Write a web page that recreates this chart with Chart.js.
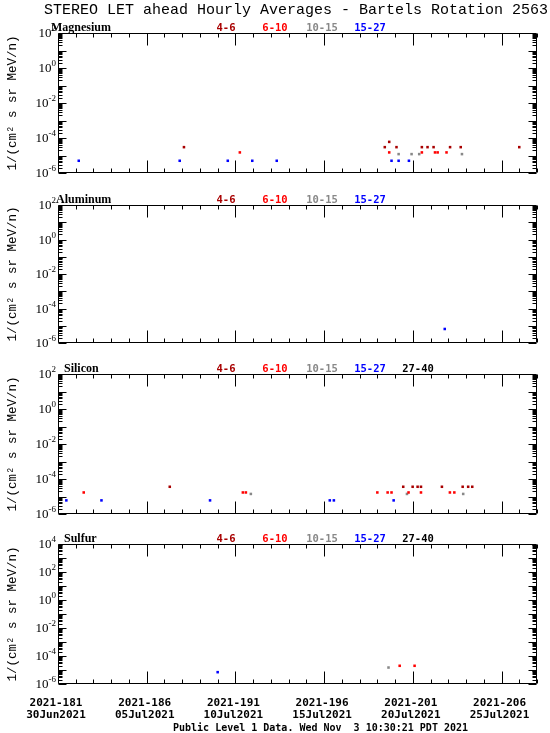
<!DOCTYPE html>
<html>
<head>
<meta charset="utf-8">
<script src="https://cdn.jsdelivr.net/npm/chart.js@4.4.1/dist/chart.umd.min.js"></script>
<style>
body { margin: 0; background: #fff; }
#wrap { position: relative; width: 550px; height: 733px; }
canvas { position: absolute; left: 0; }
</style>
</head>
<body>
<div id="wrap">
<canvas id="c1" width="550" height="180" style="top:0px"></canvas>
<canvas id="c2" width="550" height="170" style="top:180px"></canvas>
<canvas id="c3" width="550" height="170" style="top:350px"></canvas>
<canvas id="c4" width="550" height="213" style="top:520px"></canvas>
</div>
<script>
// x axis: day of year 2021 (Bartels rotation 2563)
const dayMin = 181, dayMax = 208;
const tickDays = [181, 186, 191, 196, 201, 206];
const tickDoy = ['2021-181', '2021-186', '2021-191', '2021-196', '2021-201', '2021-206'];
const tickDates = ['30Jun2021', '05Jul2021', '10Jul2021', '15Jul2021', '20Jul2021', '25Jul2021'];

// energy channels (MeV/n)
const channels = ['4-6', '6-10', '10-15', '15-27', '27-40'];
const channelColors = ['#a80000', '#ff0000', '#888888', '#0000ff', '#000000'];

// Magnesium
const mgDays46 = [188.1, 199.42, 199.67, 200.08, 201.51, 201.83, 202.17, 203.1, 203.7, 207.0];
const mgVals46 = [3e-5, 3e-5, 6e-5, 3e-5, 3e-5, 3e-5, 3e-5, 3e-5, 3e-5, 3e-5];
const mgDays610 = [191.25, 199.67, 201.51, 202.25, 202.4, 202.9];
const mgVals610 = [1.5e-5, 1.5e-5, 1.5e-5, 1.5e-5, 1.5e-5, 1.5e-5];
const mgDays1015 = [200.2, 200.93, 201.36, 203.77];
const mgVals1015 = [1.2e-5, 1.2e-5, 1.2e-5, 1.2e-5];
const mgDays1527 = [182.17, 187.86, 190.57, 191.95, 193.33, 199.8, 200.2, 200.78];
const mgVals1527 = [5e-6, 5e-6, 5e-6, 5e-6, 5e-6, 5e-6, 5e-6, 5e-6];

// Aluminum
const alDays1527 = [202.8];
const alVals1527 = [6.5e-6];

// Silicon
const siDays46 = [187.3, 200.46, 200.99, 201.27, 201.46, 202.64, 203.81, 204.12, 204.35];
const siVals46 = [3.6e-5, 3.6e-5, 3.6e-5, 3.6e-5, 3.6e-5, 3.6e-5, 3.6e-5, 3.6e-5, 3.6e-5];
const siDays610 = [182.45, 191.42, 191.59, 199.0, 199.58, 199.8, 200.76, 201.46, 203.09, 203.34];
const siVals610 = [1.7e-5, 1.7e-5, 1.7e-5, 1.7e-5, 1.7e-5, 1.7e-5, 1.7e-5, 1.7e-5, 1.7e-5, 1.7e-5];
const siDays1015 = [191.87, 200.67, 203.84];
const siVals1015 = [1.4e-5, 1.4e-5, 1.4e-5];
const siDays1527 = [181.47, 183.45, 189.57, 196.32, 196.55, 199.92];
const siVals1527 = [6e-6, 6e-6, 6e-6, 6e-6, 6e-6, 6e-6];

// Sulfur
const sDays610 = [200.26, 201.1];
const sVals610 = [2e-5, 2e-5];
const sDays1015 = [199.63];
const sVals1015 = [1.5e-5];
const sDays1527 = [190.0];
const sVals1527 = [7e-6];

function series(days, vals, ch) {
    return {
        data: days.map((d, i) => ({x: d, y: vals[i]})),
        backgroundColor: channelColors[ch],
        borderWidth: 0,
        pointStyle: 'rect',
        pointRadius: 1.8,
        showLine: false
    };
}

function drawPow(ctx, exp, xRight, yTick) {
    ctx.font = '13px "Liberation Serif"';
    const w1 = ctx.measureText('10').width;
    ctx.font = '9px "Liberation Serif"';
    const w2 = ctx.measureText(String(exp)).width;
    ctx.textAlign = 'left';
    ctx.textBaseline = 'alphabetic';
    ctx.font = '13px "Liberation Serif"';
    ctx.fillText('10', xRight - w2 - w1, yTick + 4);
    ctx.font = '9px "Liberation Serif"';
    ctx.fillText(String(exp), xRight - w2, yTick - 2);
}

const panelPlugin = {
    id: 'panel',
    afterDraw(chart, args, o) {
        const ctx = chart.ctx, a = chart.chartArea;
        const x = chart.scales.x, y = chart.scales.y;
        ctx.save();
        ctx.strokeStyle = '#000';
        ctx.fillStyle = '#000';
        ctx.lineWidth = 1;
        const L = Math.round(a.left) + 0.5, R = Math.round(a.right) - 0.5;
        const T = Math.round(a.top) + 0.5, B = Math.round(a.bottom) - 0.5;
        ctx.beginPath();
        ctx.rect(L, T, R - L, B - T);
        // day ticks, inward on bottom and top
        for (let d = dayMin; d <= dayMax; d++) {
            const px = Math.round(x.getPixelForValue(d)) + 0.5;
            const len = (d - dayMin) % 5 === 0 ? 12 : 4;
            ctx.moveTo(px, B); ctx.lineTo(px, B - len);
            ctx.moveTo(px, T); ctx.lineTo(px, T + len);
        }
        // log ticks, inward on left and right
        for (let e = o.expMin; e < o.expMax; e++) {
            for (let m = 1; m <= 9; m++) {
                const py = Math.round(y.getPixelForValue(m * Math.pow(10, e))) + 0.5;
                const len = m === 1 ? 8 : 4;
                ctx.moveTo(L, py); ctx.lineTo(L + len, py);
                ctx.moveTo(R, py); ctx.lineTo(R - len, py);
            }
        }
        ctx.stroke();

        // y tick labels every two decades
        for (let e = o.expMin; e <= o.expMax; e += 2) {
            drawPow(ctx, e, a.left - 2, y.getPixelForValue(Math.pow(10, e)));
        }

        // y title
        ctx.save();
        ctx.translate(13, (a.top + a.bottom) / 2);
        ctx.rotate(-Math.PI / 2);
        ctx.font = '12.5px "Liberation Mono"';
        ctx.textAlign = 'center';
        ctx.textBaseline = 'middle';
        ctx.fillText('1/(cm\u00b2 s sr MeV/n)', 0, 0);
        ctx.restore();

        // element label
        ctx.font = 'bold 12px "Liberation Serif"';
        ctx.textAlign = 'left';
        ctx.textBaseline = 'alphabetic';
        ctx.fillText(o.label, o.labelX, a.top - 2);

        // channel legend
        const legendX = [226, 275, 322, 370, 418];
        ctx.font = 'bold 10.5px "DejaVu Sans Mono"';
        ctx.textAlign = 'center';
        for (let i = 0; i < o.nChannels; i++) {
            ctx.fillStyle = channelColors[i];
            ctx.fillText(channels[i], legendX[i], a.top - 2);
        }
        ctx.fillStyle = '#000';

        if (o.title) {
            ctx.font = '15px "Liberation Mono"';
            ctx.textAlign = 'center';
            ctx.fillText('STEREO LET ahead Hourly Averages - Bartels Rotation 2563', 296, 14);
        }

        if (o.xLabels) {
            ctx.font = 'bold 11px "DejaVu Sans Mono"';
            ctx.textAlign = 'center';
            tickDays.forEach((d, i) => {
                const px = x.getPixelForValue(d);
                ctx.fillText(tickDoy[i], px - 2, a.bottom + 22);
                ctx.fillText(tickDates[i], px - 2, a.bottom + 34);
            });
            ctx.font = 'bold 10px "DejaVu Sans Mono"';
            ctx.textAlign = 'left';
            ctx.fillText('Public Level 1 Data. Wed Nov  3 10:30:21 PDT 2021', 173, a.bottom + 47);
        }
        ctx.restore();
    }
};

function makePanel(id, datasets, expMin, expMax, padTop, padBottom, panelOpts) {
    new Chart(document.getElementById(id), {
        type: 'scatter',
        data: {datasets: datasets},
        options: {
            responsive: false,
            animation: false,
            layout: {padding: {left: 58, right: 13, top: padTop, bottom: padBottom}},
            scales: {
                x: {type: 'linear', min: dayMin, max: dayMax, display: false},
                y: {type: 'logarithmic', min: Math.pow(10, expMin), max: Math.pow(10, expMax), display: false}
            },
            plugins: {
                legend: {display: false},
                tooltip: {enabled: false},
                panel: Object.assign({expMin: expMin, expMax: expMax}, panelOpts)
            }
        },
        plugins: [panelPlugin]
    });
}

makePanel('c1', [
    series(mgDays46, mgVals46, 0),
    series(mgDays610, mgVals610, 1),
    series(mgDays1015, mgVals1015, 2),
    series(mgDays1527, mgVals1527, 3)
], -6, 2, 33, 7, {label: 'Magnesium', labelX: 51, nChannels: 4, title: true});

makePanel('c2', [
    series(alDays1527, alVals1527, 3)
], -6, 2, 25, 7, {label: 'Aluminum', labelX: 56, nChannels: 4});

makePanel('c3', [
    series(siDays46, siVals46, 0),
    series(siDays610, siVals610, 1),
    series(siDays1015, siVals1015, 2),
    series(siDays1527, siVals1527, 3)
], -6, 2, 24, 6, {label: 'Silicon', labelX: 64, nChannels: 5});

makePanel('c4', [
    series(sDays610, sVals610, 1),
    series(sDays1015, sVals1015, 2),
    series(sDays1527, sVals1527, 3)
], -6, 4, 24, 49, {label: 'Sulfur', labelX: 64, nChannels: 5, xLabels: true});
</script>
</body>
</html>
